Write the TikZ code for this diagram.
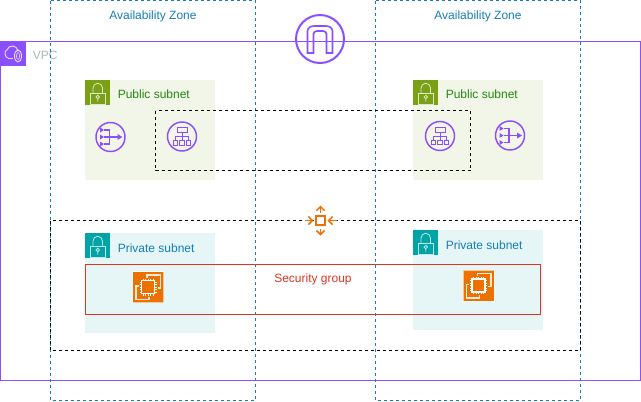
\documentclass[tikz,border=0pt]{standalone}
\usepackage{fontspec}
\setmainfont{Liberation Sans}
\usetikzlibrary{arrows.meta}

\definecolor{vpccol}{HTML}{8C4FFF}
\definecolor{azcol}{HTML}{147EBA}
\definecolor{pubfill}{HTML}{F2F6E8}
\definecolor{pubicon}{HTML}{7AA116}
\definecolor{pubtext}{HTML}{248814}
\definecolor{privfill}{HTML}{E6F6F7}
\definecolor{privicon}{HTML}{00A4A6}
\definecolor{sgcol}{HTML}{DD3522}
\definecolor{ec2col}{HTML}{ED7100}
\definecolor{vpctext}{HTML}{AAB7B8}

\tikzset{
	lbl/.style={font=\fontsize{9}{11}\selectfont, inner sep=0pt},
	azbox/.style={draw=azcol, line width=0.75pt, dash pattern=on 2.25pt off 2.25pt},
	blackbox/.style={draw=black, line width=0.75pt, dash pattern=on 2.25pt off 2.25pt},
	purple line/.style={draw=vpccol, line width=0.9pt},
	lock/.pic={
		\draw [white, opacity=0.75, line width=0.6pt] (5.5,13.5) rectangle (20,24);
		\draw [white, opacity=0.75, line width=0.6pt] (8,13.5) -- (8,8) arc [start angle=180, end angle=360, radius=4.75] -- (17.5,13.5);
		\draw [white, opacity=0.75, line width=0.6pt] (12.75,17) circle (1.7) (12.75,18.7) -- (12.75,21.5);
	},
	nat/.pic={
		\draw [purple line, line width=1.1pt] (0,0) circle (14.5);
		\foreach \y in {-7,0,7} {
			\fill [vpccol] (-10.5,\y-2.5) -- (-6.5,\y) -- (-10.5,\y+2.5) -- cycle;
		}
		\draw [purple line] (-6.5,-7) -- (-1,-7) -- (-1,7) -- (-6.5,7) (-6.5,0) -- (8,0);
		\fill [vpccol] (7,-3) -- (12,0) -- (7,3) -- cycle;
	},
	alb/.pic={
		\draw [purple line, line width=1.1pt] (0,0) circle (14.5);
		\draw [purple line, line width=0.7pt] (-5,-9) rectangle (5,-4);
		\draw [purple line, line width=0.7pt] (0,-4) -- (0,0) (-6.5,4) -- (-6.5,0) -- (6.5,0) -- (6.5,4) (0,0) -- (0,4);
		\foreach \x in {-6.5,0,6.5} {
			\draw [purple line, line width=0.7pt] (\x-2.2,4) rectangle (\x+2.2,8.5);
		}
	},
	igw/.pic={
		\draw [vpccol, line width=1.5pt] (0,0) circle (24);
		\draw [vpccol, line width=1.2pt] (-12.5,14) -- (-12.5,-8) to [out=90, in=180] (-6,-13) -- (6,-13) to [out=0, in=90] (12.5,-8) -- (12.5,14) -- (6.5,14) -- (6.5,-5) to [out=90, in=0] (3,-8) -- (-3,-8) to [out=180, in=90] (-6.5,-5) -- (-6.5,14) -- cycle;
	},
	ec2/.pic={
		\fill [ec2col] (0,0) rectangle (31,31);
		\draw [white, opacity=0.6, line width=0.6pt] (0,0) rectangle (31,31);
		\draw [white, opacity=0.85, line width=0.8pt] (14.5,6) -- (14.5,3.5) -- (28,3.5) -- (28,16.5) -- (25,16.5);
		\draw [white, opacity=0.85, line width=0.8pt] (6,14.5) -- (3.5,14.5) -- (3.5,28) -- (16.5,28) -- (16.5,25);
		\draw [white, line width=1pt] (9,9) rectangle (22,22);
		\foreach \t in {10.5,13,15.5,18,20.5} {
			\draw [white, line width=0.5pt] (\t,7) -- (\t,9) (\t,22) -- (\t,24) (7,\t) -- (9,\t) (22,\t) -- (24,\t);
		}
	},
	scaling/.pic={
		\fill [ec2col] (-5.5,-5.5) rectangle (5.5,5.5);
		\fill [white] (-3.7,-3.7) rectangle (3.7,3.7);
		\foreach \r in {0,180} {
			\begin{scope}[rotate=\r]
				\draw [ec2col, line width=1.1pt, -{Straight Barb[length=3pt, width=6pt]}] (0,-8) -- (0,-15);
				\draw [ec2col, line width=1.1pt, -{Straight Barb[length=3pt, width=6pt]}] (-16,0) -- (-7,0);
			\end{scope}
		}
	}
}

\begin{document}
\begin{tikzpicture}[x=0.75pt, y=-0.75pt]
	\def\azw{204.5};
	\useasboundingbox (0,0) rectangle (641,401);

	% subnets
	\begin{scope}
		\fill [pubfill] (85,80) rectangle ++(130,100);
		\fill [pubfill] (413,80) rectangle ++(130,100);
		\fill [privfill] (85,233) rectangle ++(130,100);
		\fill [privfill] (413,230) rectangle ++(130,100);

		\fill [pubicon] (85,80) rectangle ++(25,25);
		\fill [pubicon] (413,80) rectangle ++(25,25);
		\fill [privicon] (85,233) rectangle ++(25,25);
		\fill [privicon] (413,230) rectangle ++(25,25);

		\pic at (85,80) {lock};
		\pic at (413,80) {lock};
		\pic at (85,233) {lock};
		\pic at (413,230) {lock};

		\node [lbl, anchor=west, text=pubtext] (publ) at (117.5,94.5) {Public subnet};
		\node [lbl, anchor=west, text=pubtext] (pubr) at (445.5,94.5) {Public subnet};
		\node [lbl, anchor=west, text=azcol] (privl) at (117.5,248) {Private subnet};
		\node [lbl, anchor=west, text=azcol] (privr) at (445.5,245) {Private subnet};
	\end{scope}

	% vpc
	\begin{scope}
		\draw [vpccol, line width=0.75pt] (0.5,41) rectangle (640,380);
		\fill [vpccol] (0,41) rectangle ++(25.5,25);
		\draw [white, opacity=0.8, line width=0.7pt] (8,58) to [out=180, in=180] (7,50) to [out=80, in=180] (13,46) to [out=0, in=110] (18,51);
		\draw [white, opacity=0.8, line width=0.7pt] (8,58) -- (13,58);
		\draw [white, opacity=0.8, line width=0.7pt] (18,56) ellipse (3.5 and 6);
		\draw [white, opacity=0.8, line width=0.5pt] (18,56) ellipse (1.5 and 3.5);
		\node [lbl, anchor=west, text=vpctext] (vpc) at (32.5,55) {VPC};
	\end{scope}

	% availability zones
	\begin{scope}
		\draw [azbox] (50.5,0.5) rectangle ++(\azw,400);
		\draw [azbox] (375.5,0.5) rectangle ++(\azw,400);
		\node [lbl, text=azcol] (azl) at (153,16) {Availability Zone};
		\node [lbl, text=azcol] (azr) at (478,16) {Availability Zone};
	\end{scope}

	% groups
	\begin{scope}
		\draw [blackbox] (155.5,110.5) rectangle (470.5,170.5);
		\draw [blackbox] (50.5,220.5) rectangle (580,350.5);
		\draw [sgcol, line width=0.75pt] (85.5,264.5) rectangle (540.5,314.5);
		\node [lbl, text=sgcol] (sg) at (313,279.5) {Security group};
	\end{scope}

	% icons
	\pic at (320,39) {igw};
	\pic at (110.5,137) {nat};
	\pic at (182,136.5) {alb};
	\pic at (440,136) {alb};
	\pic at (510,135.5) {nat};
	\pic at (320.5,220.5) {scaling};
	\pic at (132.5,271.5) {ec2};
	\pic at (463,270) {ec2};
\end{tikzpicture}
\end{document}
